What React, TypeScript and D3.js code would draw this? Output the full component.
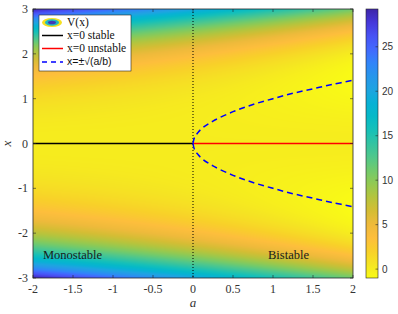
import { useMemo } from 'react';
import * as d3 from 'd3';

// axis ranges and ticks
const aDomain = [-2, 2];
const xDomain = [-3, 3];
const aTicks = [-2, -1.5, -1, -0.5, 0, 0.5, 1, 1.5, 2];
const xTicks = [-3, -2, -1, 0, 1, 2, 3];
const cbTicks = [0, 5, 10, 15, 20, 25];
const cbDomain = [-1, 29.25];

// potential V(x) = -a x^2/2 + b x^4/4
const bCoef = 1;

// stable branches x = ±sqrt(a/b)
const branchA = [0, 0.02, 0.06, 0.12, 0.25, 0.5, 0.75, 1, 1.25, 1.5, 1.75, 2];
const branchX = [0, 0.14, 0.24, 0.35, 0.5, 0.71, 0.87, 1, 1.12, 1.22, 1.32, 1.41];

// parula (used flipped)
const parulaStops = [
  '#3e26a8', '#4638da', '#4852f4', '#4268fd', '#3184f9', '#2796eb', '#1ea4e1',
  '#08b1d5', '#06b9c7', '#16c0b8', '#33c3a1', '#50c78b', '#71ca6c', '#93c951',
  '#b5c43d', '#d4bd34', '#eeba3b', '#fdbe3c', '#f8d029', '#f5e522', '#f9fb15',
];

const legendLabels = ['V(x)', 'x=0 stable', 'x=0 unstable', 'x=±√(a/b)'];

const W = 398;
const H = 314;
const plot = { left: 33, right: 353, top: 9, bottom: 278 };
const cb = { left: 366, right: 378 };

const serif = '"Liberation Serif", "DejaVu Serif", serif';
const sans = '"Liberation Sans", Arial, sans-serif';

export default function App() {
  const xs = d3.scaleLinear().domain(aDomain).range([plot.left, plot.right]);
  const ys = d3.scaleLinear().domain(xDomain).range([plot.bottom, plot.top]);
  const cbScale = d3.scaleLinear().domain(cbDomain).range([plot.bottom, plot.top]);

  const parula = d3
    .scaleLinear<string>()
    .domain(parulaStops.map((_, i) => i / (parulaStops.length - 1)))
    .range(parulaStops)
    .interpolate(d3.interpolateRgb);
  const colorOf = (v: number) => {
    const t = (v - cbDomain[0]) / (cbDomain[1] - cbDomain[0]);
    return parula(1 - Math.max(0, Math.min(1, t)));
  };

  const heatmap = useMemo(() => {
    const w = plot.right - plot.left;
    const h = plot.bottom - plot.top;
    const canvas = document.createElement('canvas');
    canvas.width = w;
    canvas.height = h;
    const ctx = canvas.getContext('2d');
    if (!ctx) return '';
    const img = ctx.createImageData(w, h);
    for (let j = 0; j < h; j++) {
      const x = ys.invert(plot.top + j + 0.5);
      for (let i = 0; i < w; i++) {
        const a = xs.invert(plot.left + i + 0.5);
        const v = (-a * x * x) / 2 + (bCoef * x ** 4) / 4;
        const c = d3.rgb(colorOf(v));
        const k = (j * w + i) * 4;
        img.data[k] = c.r;
        img.data[k + 1] = c.g;
        img.data[k + 2] = c.b;
        img.data[k + 3] = 255;
      }
    }
    ctx.putImageData(img, 0, 0);
    return canvas.toDataURL();
  }, []);

  const pts = branchA.map((a, i) => [a, branchX[i]] as [number, number]);
  const line = d3
    .line<[number, number]>()
    .x((d) => xs(d[0]))
    .y((d) => ys(d[1]))
    .curve(d3.curveCatmullRom);
  const upper = line(pts) || '';
  const lower = line(pts.map(([a, x]) => [a, -x] as [number, number])) || '';

  const gradStops = d3.range(0, 1.0001, 0.025);
  const rowY = [22.5, 35.5, 48.5, 62];

  return (
    <svg width={W} height={H} style={{ position: 'absolute', left: 0, top: 0, background: '#fff' }}>
      <defs>
        <linearGradient id="cbgrad" x1="0" y1="1" x2="0" y2="0">
          {gradStops.map((t) => (
            <stop key={t} offset={t} stopColor={colorOf(cbDomain[0] + t * (cbDomain[1] - cbDomain[0]))} />
          ))}
        </linearGradient>
      </defs>

      <image href={heatmap} x={plot.left} y={plot.top} width={plot.right - plot.left} height={plot.bottom - plot.top} preserveAspectRatio="none" />

      {/* a = 0 divider */}
      <line x1={xs(0)} x2={xs(0)} y1={plot.top} y2={plot.bottom} stroke="#000" strokeWidth={1} strokeDasharray="1,2" />

      {/* x = 0 branches */}
      <line x1={xs(-2)} x2={xs(0)} y1={ys(0)} y2={ys(0)} stroke="#000" strokeWidth={1.5} />
      <line x1={xs(0)} x2={xs(2)} y1={ys(0)} y2={ys(0)} stroke="#ff0000" strokeWidth={1.5} />
      <path d={upper} fill="none" stroke="#0000ff" strokeWidth={1.5} strokeDasharray="6,4" />
      <path d={lower} fill="none" stroke="#0000ff" strokeWidth={1.5} strokeDasharray="6,4" />

      <text x={43} y={259} fontFamily={serif} fontSize={12.5} fill="#1a1a1a">Monostable</text>
      <text x={268} y={259} fontFamily={serif} fontSize={12.5} fill="#1a1a1a">Bistable</text>

      {/* axes box + ticks */}
      <rect x={plot.left} y={plot.top} width={plot.right - plot.left} height={plot.bottom - plot.top} fill="none" stroke="#262626" strokeWidth={0.8} />
      {aTicks.map((t) => (
        <g key={'a' + t}>
          <line x1={xs(t)} x2={xs(t)} y1={plot.bottom} y2={plot.bottom - 3} stroke="#262626" strokeWidth={0.6} />
          <line x1={xs(t)} x2={xs(t)} y1={plot.top} y2={plot.top + 3} stroke="#262626" strokeWidth={0.6} />
          <text x={xs(t)} y={293} textAnchor="middle" fontFamily={serif} fontSize={12} fill="#333">{t}</text>
        </g>
      ))}
      {xTicks.map((t) => (
        <g key={'x' + t}>
          <line x1={plot.left} x2={plot.left + 3} y1={ys(t)} y2={ys(t)} stroke="#262626" strokeWidth={0.6} />
          <line x1={plot.right} x2={plot.right - 3} y1={ys(t)} y2={ys(t)} stroke="#262626" strokeWidth={0.6} />
          <text x={28} y={ys(t) + 4} textAnchor="end" fontFamily={serif} fontSize={12} fill="#333">{t}</text>
        </g>
      ))}
      <text x={xs(0)} y={307} textAnchor="middle" fontFamily={serif} fontStyle="italic" fontSize={13} fill="#333">a</text>
      <text transform={`translate(11,${ys(0)}) rotate(-90)`} textAnchor="middle" fontFamily={serif} fontStyle="italic" fontSize={13} fill="#333">x</text>

      {/* legend */}
      <g>
        <rect x={39} y={15} width={92} height={56} fill="#fff" stroke="#262626" strokeWidth={0.6} />
        <ellipse cx={52} cy={rowY[0]} rx={10} ry={4.5} fill="#f5e020" />
        <ellipse cx={52} cy={rowY[0]} rx={7} ry={3.2} fill="#20b8c4" />
        <ellipse cx={52} cy={rowY[0]} rx={4} ry={1.8} fill="#4038b8" />
        <line x1={42} x2={63} y1={rowY[1]} y2={rowY[1]} stroke="#000" strokeWidth={1.5} />
        <line x1={42} x2={63} y1={rowY[2]} y2={rowY[2]} stroke="#ff0000" strokeWidth={1.5} />
        <line x1={42} x2={63} y1={rowY[3]} y2={rowY[3]} stroke="#0000ff" strokeWidth={1.5} strokeDasharray="5,4" />
        {legendLabels.map((l, i) => (
          <text
            key={l}
            x={67}
            y={rowY[i]}
            dy="0.33em"
            fontFamily={i === 3 ? sans : serif}
            fontSize={i === 3 ? 10.5 : 11.5}
            fill="#111"
          >
            {l}
          </text>
        ))}
      </g>

      {/* colorbar */}
      <rect x={cb.left} y={plot.top} width={cb.right - cb.left} height={plot.bottom - plot.top} fill="url(#cbgrad)" stroke="#262626" strokeWidth={0.6} />
      {cbTicks.map((t) => (
        <g key={'c' + t}>
          <line x1={cb.right} x2={cb.right - 2.5} y1={cbScale(t)} y2={cbScale(t)} stroke="#262626" strokeWidth={0.6} />
          <text x={382} y={cbScale(t) + 3.5} fontFamily={sans} fontSize={10} fill="#333">{t}</text>
        </g>
      ))}
    </svg>
  );
}
